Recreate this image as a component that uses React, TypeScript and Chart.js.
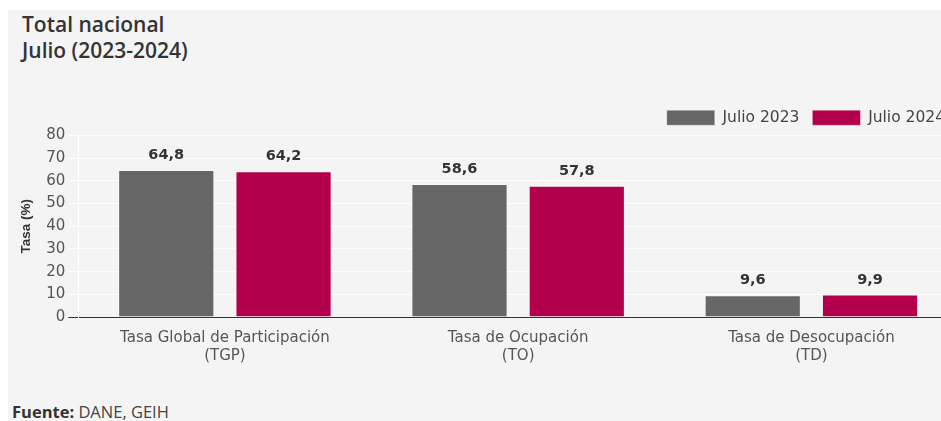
import React, { useEffect, useRef } from "react";
import { Chart, registerables } from "chart.js";

Chart.register(...registerables);

const categories: string[][] = [
  ["Tasa Global de Participación", "(TGP)"],
  ["Tasa de Ocupación", "(TO)"],
  ["Tasa de Desocupación", "(TD)"],
];
const seriesNames = ["Julio 2023", "Julio 2024"];
const values2023 = [64.8, 58.6, 9.6];
const values2024 = [64.2, 57.8, 9.9];
const yMin = 0;
const yMax = 80;
const yStep = 10;
const yTitle = "Tasa (%)";
const titleLines = ["Total nacional", "Julio (2023-2024)"];
const sourceLabel = "Fuente:";
const sourceText = " DANE, GEIH";

const GRAY = "#666666";
const MAGENTA = "#B3004C";
const FONT = '"DejaVu Sans", sans-serif';

const valueLabels = {
  id: "valueLabels",
  afterDatasetsDraw(chart: any) {
    const ctx = chart.ctx;
    ctx.save();
    ctx.font = 'bold 14.5px "DejaVu Sans", sans-serif';
    ctx.fillStyle = "#333333";
    ctx.textAlign = "center";
    ctx.textBaseline = "alphabetic";
    chart.data.datasets.forEach((ds: any, i: number) => {
      const meta = chart.getDatasetMeta(i);
      meta.data.forEach((bar: any, j: number) => {
        const v = ds.data[j] as number;
        ctx.fillText(v.toFixed(1).replace(".", ","), bar.x, bar.y - 11);
      });
    });
    ctx.restore();
  },
};

export default function App() {
  const ref = useRef<HTMLCanvasElement | null>(null);

  useEffect(() => {
    if (!ref.current) return;
    const chart = new Chart(ref.current, {
      type: "bar",
      data: {
        labels: categories,
        datasets: [
          {
            label: seriesNames[0],
            data: values2023,
            backgroundColor: GRAY,
            borderColor: "rgba(255,255,255,0.35)",
            borderWidth: 1,
            categoryPercentage: 0.8,
            barPercentage: 0.82,
          },
          {
            label: seriesNames[1],
            data: values2024,
            backgroundColor: MAGENTA,
            borderColor: "rgba(255,255,255,0.3)",
            borderWidth: 1,
            categoryPercentage: 0.8,
            barPercentage: 0.82,
          },
        ],
      },
      options: {
        responsive: false,
        animation: false,
        devicePixelRatio: 1,
        layout: { padding: { left: 6, right: 0, top: 0, bottom: 0 } },
        plugins: {
          legend: {
            position: "top",
            align: "end",
            fullSize: false,
            labels: {
              boxWidth: 48,
              boxHeight: 15,
              padding: 13,
              color: "#444444",
              font: { family: FONT, size: 15.5 },
            },
          },
          tooltip: { enabled: false },
        },
        scales: {
          x: {
            grid: { display: false, drawTicks: false },
            border: { color: "#333333", width: 1 },
            ticks: {
              color: "#555555",
              font: { family: FONT, size: 15 },
              padding: 12,
              maxRotation: 0,
              autoSkip: false,
            },
          },
          y: {
            min: yMin,
            max: yMax,
            grid: {
              color: (c: any) => (c.tick && c.tick.value === 0 ? "#333333" : "#ffffff"),
              lineWidth: 1,
              tickLength: 10,
              drawTicks: true,
            },
            border: { color: "#ffffff", width: 1 },
            ticks: {
              stepSize: yStep,
              color: "#555555",
              font: { family: FONT, size: 15 },
              padding: 3,
            },
            title: {
              display: true,
              text: yTitle,
              color: "#333333",
              font: { family: '"Liberation Sans", Arial, sans-serif', size: 13.5, weight: "bold" },
              padding: { top: 4, bottom: 9 },
            },
          },
        },
      },
      plugins: [valueLabels],
    } as any);
    return () => chart.destroy();
  }, []);

  return (
    <div
      style={{
        position: "absolute",
        left: 8,
        top: 10,
        width: 933,
        height: 411,
        background: "#f4f4f4",
        overflow: "hidden",
      }}
    >
      <div
        style={{
          position: "absolute",
          left: 14,
          top: 1,
          fontFamily: '"Open Sans", sans-serif',
          fontWeight: 600,
          fontSize: 21,
          lineHeight: "26px",
          color: "#333333",
          whiteSpace: "nowrap",
        }}
      >
        {titleLines.map((t) => (
          <div key={t}>{t}</div>
        ))}
      </div>
      <canvas
        ref={ref}
        width={950}
        height={280}
        style={{ position: "absolute", left: 0, top: 87, width: 950, height: 280 }}
      />
      <div
        style={{
          position: "absolute",
          left: 4,
          top: 392,
          fontFamily: '"Open Sans", sans-serif',
          fontSize: 16.5,
          lineHeight: "20px",
          color: "#444444",
          whiteSpace: "nowrap",
        }}
      >
        <span style={{ fontWeight: 700, color: "#333333" }}>{sourceLabel}</span>
        {sourceText}
      </div>
    </div>
  );
}
